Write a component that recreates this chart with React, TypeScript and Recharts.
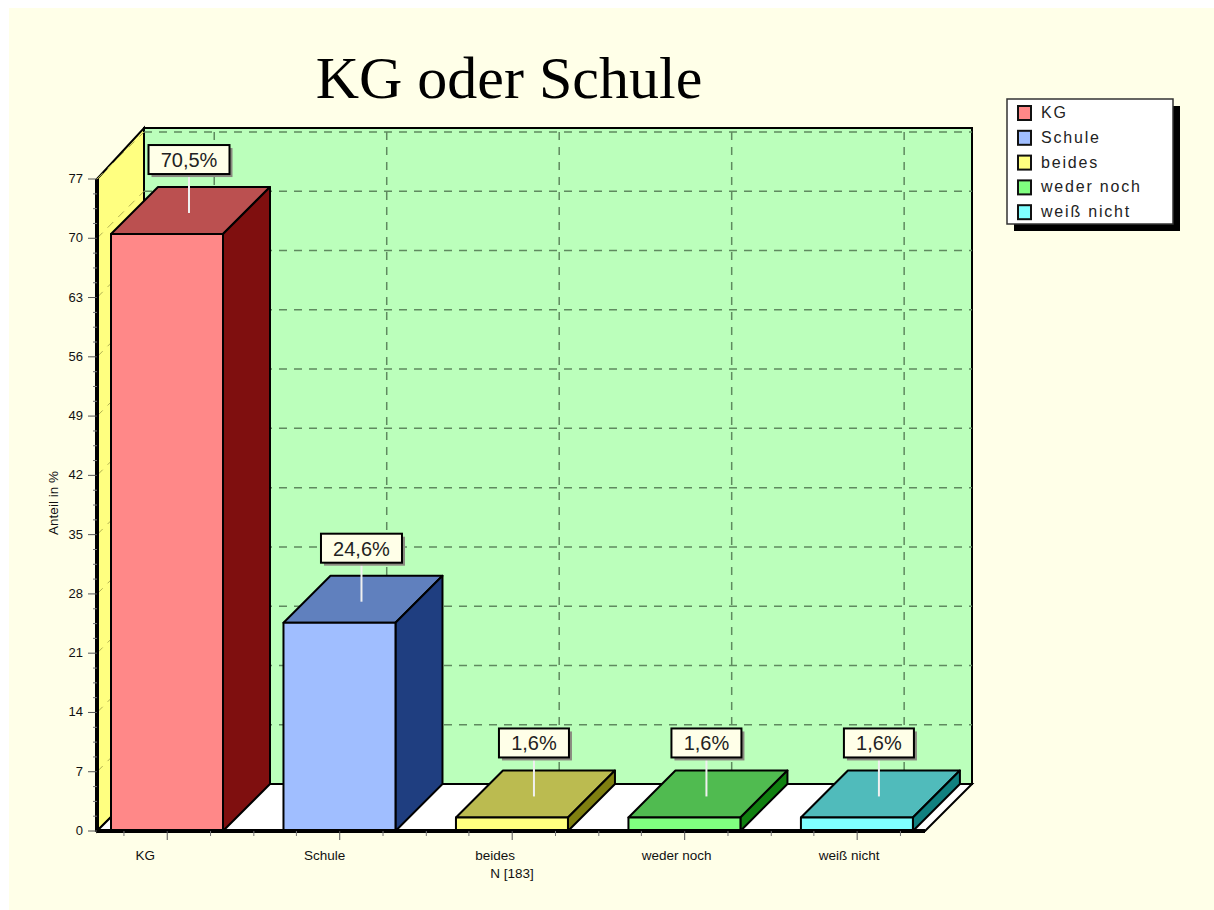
import { Bar, BarChart, CartesianGrid, LabelList, XAxis, YAxis } from "recharts";

const categories = ["KG", "Schule", "beides", "weder noch", "weiß nicht"];
const shares = [70.5, 24.6, 1.6, 1.6, 1.6];
const yTicks = [0, 7, 14, 21, 28, 35, 42, 49, 56, 63, 70, 77];

const frontColors = ["#FF8888", "#A0BEFF", "#FFFF80", "#80FF80", "#80FFFF"];
const topColors = ["#BB5050", "#6080BE", "#BBBB50", "#50BB50", "#50BBBB"];
const sideColors = ["#7F0F0F", "#1F3E80", "#7F7F10", "#108010", "#108080"];

const rows = categories.map((name, i) => ({ name, share: shares[i] }));

// plot frame, the front plane of the fake 3D box
const WIDTH = 1214;
const HEIGHT = 910;
const LEFT = 97;
const RIGHT = 925;
const TOP = 179;
const BOTTOM = 831;
const DEPTH = 47;
const WALL_TOP = 128;
const MINOR_X = 43.3;
const MINOR_Y = 14.8;

// the source chart does not center its category names under the ticks
const labelShift = [-22, -15, -17, -8, -8];

const sans = "'Liberation Sans', Arial, sans-serif";

function Cuboid(props: any) {
  const { x, y, width, height, index } = props;
  const d = DEPTH;
  return (
    <g stroke="#000" strokeWidth={2} strokeLinejoin="round">
      <polygon
        points={`${x},${y} ${x + d},${y - d} ${x + width + d},${y - d} ${x + width},${y}`}
        fill={topColors[index]}
      />
      <polygon
        points={`${x + width},${y} ${x + width + d},${y - d} ${x + width + d},${y + height - d} ${x + width},${y + height}`}
        fill={sideColors[index]}
      />
      <rect x={x} y={y} width={width} height={height} fill={frontColors[index]} />
    </g>
  );
}

function ValueBadge(props: any) {
  const { x, y, width, value } = props;
  const text = `${Number(value).toFixed(1).replace(".", ",")}%`;
  const boxW = text.length > 4 ? 81 : 70;
  const cx = x + width / 2 + 22;
  return (
    <g>
      <line x1={cx} y1={y - 60} x2={cx} y2={y - 21} stroke="#F0F0F0" strokeWidth={2} />
      <rect x={cx - boxW / 2 + 3} y={y - 86} width={boxW} height={29} fill="#8A8A80" />
      <rect x={cx - boxW / 2} y={y - 89} width={boxW} height={29} fill="#FFFFE8" stroke="#000" strokeWidth={2} />
      <text x={cx} y={y - 67} textAnchor="middle" fontSize={20} fontFamily={sans} fill="#222">
        {text}
      </text>
    </g>
  );
}

function CategoryTick(props: any) {
  const { x, index, payload } = props;
  const offsets = index < categories.length - 1 ? [-1, 1, 2] : [-1, 1];
  return (
    <g>
      <line x1={x} y1={BOTTOM} x2={x} y2={BOTTOM + 9} stroke="#555" />
      {offsets.map((k) => (
        <line key={k} x1={x + k * MINOR_X} y1={BOTTOM} x2={x + k * MINOR_X} y2={BOTTOM + 5} stroke="#777" />
      ))}
      <text x={x + labelShift[index]} y={BOTTOM + 29} textAnchor="middle" fontSize={13.5} fontFamily={sans} fill="#111">
        {payload.value}
      </text>
    </g>
  );
}

function ShareTick(props: any) {
  const { y, payload } = props;
  const minors = payload.value < 77 ? [1, 2, 3] : [];
  return (
    <g>
      <line x1={LEFT - 9} y1={y} x2={LEFT} y2={y} stroke="#555" />
      {minors.map((k) => (
        <line key={k} x1={LEFT - 4} y1={y - k * MINOR_Y} x2={LEFT} y2={y - k * MINOR_Y} stroke="#777" />
      ))}
      <text x={LEFT - 14} y={y + 4} textAnchor="end" fontSize={13} fontFamily={sans} fill="#111">
        {payload.value}
      </text>
    </g>
  );
}

function WallLineH(props: any) {
  const { x1, x2, y1 } = props;
  if (y1 >= BOTTOM - 1) return <g />;
  return (
    <g strokeDasharray="8 7">
      <line x1={x1} y1={y1} x2={x1 + DEPTH} y2={y1 - DEPTH} stroke="#B0B050" />
      <line x1={x1 + DEPTH} y1={y1 - DEPTH} x2={x2 + DEPTH} y2={y1 - DEPTH} stroke="#5F8A5F" strokeWidth={1.5} />
    </g>
  );
}

function WallLineV(props: any) {
  const { x1, y1, y2 } = props;
  return (
    <line
      x1={x1 + DEPTH}
      y1={y1 - DEPTH}
      x2={x1 + DEPTH}
      y2={y2 - DEPTH}
      stroke="#5F8A5F"
      strokeWidth={1.5}
      strokeDasharray="8 7"
    />
  );
}

// sits in its own svg under the chart, the grid would otherwise end up below it
function Backdrop() {
  const d = DEPTH;
  return (
    <svg width={WIDTH} height={HEIGHT} style={{ position: "absolute", left: 0, top: 0 }}>
      <rect x={9} y={8} width={WIDTH - 9} height={HEIGHT - 8} fill="#FFFFE8" />
      <text x={509} y={98} textAnchor="middle" fontSize={60} fontFamily="'Liberation Serif', 'Times New Roman', serif" fill="#000">
        KG oder Schule
      </text>
      <g stroke="#000" strokeWidth={2}>
        <rect x={LEFT + d} y={WALL_TOP} width={RIGHT - LEFT} height={BOTTOM - d - WALL_TOP} fill="#BBFFBB" />
        <polygon points={`${LEFT},${TOP} ${LEFT + d},${WALL_TOP} ${LEFT + d},${BOTTOM - d} ${LEFT},${BOTTOM}`} fill="#FFFF80" />
        <polygon points={`${LEFT},${BOTTOM} ${LEFT + d},${BOTTOM - d} ${RIGHT + d},${BOTTOM - d} ${RIGHT},${BOTTOM}`} fill="#FFFFFF" />
      </g>
    </svg>
  );
}

function CategoryKey() {
  return (
    <g>
      <rect x={1014} y={106} width={166} height={125} fill="#000" />
      <rect x={1007} y={99} width={166} height={125} fill="#FFF" stroke="#333" strokeWidth={1.5} />
      {categories.map((name, i) => (
        <g key={name}>
          <rect x={1018} y={106 + i * 24.8} width={13} height={14} fill={frontColors[i]} stroke="#111" strokeWidth={2} />
          <text x={1041} y={118 + i * 24.8} fontSize={16} letterSpacing={1.8} fontFamily={sans} fill="#222">
            {name}
          </text>
        </g>
      ))}
    </g>
  );
}

export default function App() {
  return (
    <div style={{ position: "absolute", left: 0, top: 0, width: WIDTH, height: HEIGHT }}>
      <Backdrop />
      <div style={{ position: "absolute", left: 0, top: 0 }}>
        <BarChart
          width={WIDTH}
          height={HEIGHT}
          data={rows}
          margin={{ top: TOP, right: WIDTH - RIGHT, bottom: 0, left: 0 }}
          barSize={112}
        >
          <CartesianGrid syncWithTicks horizontal={WallLineH} vertical={WallLineV} />
          <XAxis
            dataKey="name"
            height={HEIGHT - BOTTOM}
            padding={{ left: -16, right: -18.4 }}
            axisLine={{ stroke: "#000", strokeWidth: 4 }}
            tickLine={false}
            tick={CategoryTick}
            interval={0}
          />
          <YAxis
            width={LEFT}
            domain={[0, 77]}
            ticks={yTicks}
            interval={0}
            axisLine={{ stroke: "#000", strokeWidth: 4 }}
            tickLine={false}
            tick={ShareTick}
          />
          <Bar dataKey="share" shape={Cuboid} isAnimationActive={false}>
            <LabelList dataKey="share" content={ValueBadge} />
          </Bar>
          <text x={512} y={878} textAnchor="middle" fontSize={13.5} fontFamily={sans} fill="#111">
            N [183]
          </text>
          <text transform="translate(58,503) rotate(-90)" textAnchor="middle" fontSize={13.5} fontFamily={sans} fill="#111">
            Anteil in %
          </text>
          <CategoryKey />
        </BarChart>
      </div>
    </div>
  );
}
